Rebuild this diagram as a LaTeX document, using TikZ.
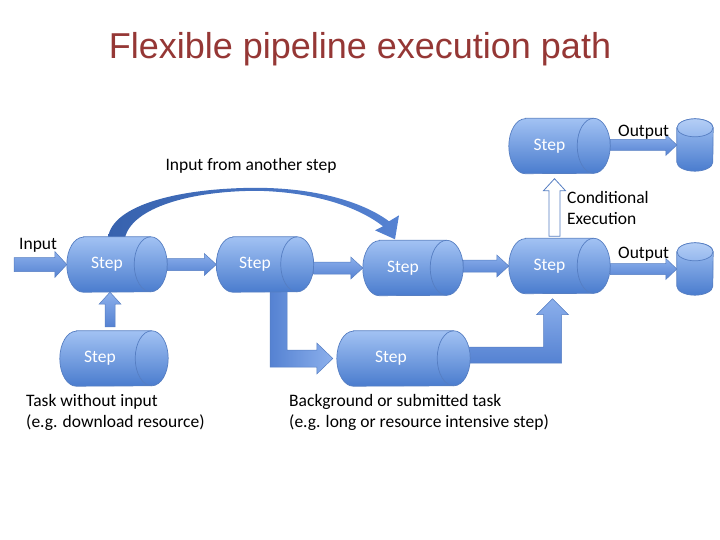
\documentclass[tikz,border=0pt]{standalone}
\usepackage{fontspec}
\setmainfont{Carlito}
\newfontfamily\titlefont{Liberation Sans}
\usetikzlibrary{calc}
\definecolor{cyltop}{RGB}{162,194,243}
\definecolor{cylbot}{RGB}{74,124,206}
\definecolor{cylline}{RGB}{86,126,194}
\definecolor{titlered}{RGB}{149,55,53}
\definecolor{arrdark}{RGB}{55,98,174}
\definecolor{arrmid}{RGB}{85,130,210}
\definecolor{arrlight}{RGB}{140,176,236}
\pgfdeclarelayer{bg}
\pgfsetlayers{bg,main}
\tikzset{
  stepbox/.style={rectangle, draw=none, text=white, inner sep=0pt,
    minimum width=100pt, minimum height=55pt, font=\fontsize{17.5}{21}\selectfont,
    execute at begin node={\hspace*{-20pt}}},
  textshift/.style={execute at begin node={\hspace*{#1}}},
  cylbody/.style={draw=cylline, line width=0.7pt, top color=cyltop, bottom color=cylbot},
  cylrim/.style={draw=cylline, line width=0.7pt},
  dbbox/.style={rectangle, draw=none, minimum width=36pt, minimum height=52pt, inner sep=0pt},
  dbbody/.style={draw=cylline, line width=0.7pt, top color=cyltop, bottom color=cylbot},
  dbtop/.style={draw=cylline, line width=0.7pt, top color=cyltop!80!white, bottom color=cyltop!85!cylbot},
  txt/.style={font=\fontsize{17.5}{21}\selectfont, inner sep=0pt, text=black},
  harr/.style={draw=cylline, line width=0.5pt, top color=arrlight, bottom color=arrmid},
  varr/.style={draw=cylline, line width=0.5pt, top color=arrlight, bottom color=arrmid},
  larr/.style={draw=cylline, line width=0.5pt, left color=arrmid, right color=arrlight},
  hollow/.style={draw=cylline, line width=0.8pt, fill=white},
  curvarr/.style={left color=arrdark, right color=arrmid, draw=none},
}
\newcommand\blockR[5]{%
  \path[harr] let \p1=(#1), \p2=(#2) in
    (\x1,\y2+#3) -- (\x2-#5,\y2+#3) -- (\x2-#5,\y2+#4) -- (\x2,\y2)
    -- (\x2-#5,\y2-#4) -- (\x2-#5,\y2-#3) -- (\x1,\y2-#3) -- cycle;}
\newcommand\cyldraw[1]{%
  \path[cylbody] ($(#1.north west)+(16.5,0)$) -- ($(#1.north east)+(-16.5,0)$)
    arc[start angle=-90, end angle=90, x radius=16.5, y radius=27.5]
    -- ($(#1.south west)+(16.5,0)$)
    arc[start angle=90, end angle=270, x radius=16.5, y radius=27.5] -- cycle;
  \path[cylrim] ($(#1.north east)+(-16.5,0)$)
    arc[start angle=-90, end angle=-270, x radius=16.5, y radius=27.5];}
\newcommand\dbdraw[1]{%
  \path[dbbody] ($(#1.north west)+(0,9)$) -- ($(#1.south west)+(0,-9)$)
    arc[start angle=180, end angle=0, x radius=18, y radius=9]
    -- ($(#1.north east)+(0,9)$)
    arc[start angle=0, end angle=-180, x radius=18, y radius=9] -- cycle;
  \path[dbtop] ($(#1.north)+(0,9)$) ellipse[x radius=18, y radius=9];}
\begin{document}
\begin{tikzpicture}[x=1pt,y=-1pt]
\useasboundingbox (0,0) rectangle (720,540);

% title
\node[font=\titlefont\fontsize{36}{40}\selectfont, text=titlered, anchor=base, inner sep=0pt]
  (title) at (360,58.5) {Flexible pipeline execution path};

% step cylinders (text nodes; bodies drawn below on the background layer)
\node[stepbox] (s1) at (117,264.5) {Step};
\node[stepbox, minimum width=97pt] (s2) at (265,264.5) {Step};
\node[stepbox] (s3) at (413,268) {Step};
\node[stepbox, minimum width=101pt] (s4) at (559.5,266) {Step};
\node[stepbox, minimum width=101pt] (stop) at (559.5,146) {Step};
\node[stepbox, minimum width=108pt, textshift=-8pt] (sbl) at (114,358.5) {Step};
\node[stepbox, minimum width=133pt, textshift=-5pt] (sbm) at (403.5,358.5) {Step};

% output databases
\node[dbbox] (db1) at (695,145) {};
\node[dbbox] (db2) at (695,269) {};
\dbdraw{db1}
\dbdraw{db2}

% labels
\node[txt, anchor=base west] (linput) at (19,249) {Input};
\node[txt, anchor=base] (lfrom) at (251,170.5) {Input from another step};
\node[txt, anchor=base west, align=left] (lcond) at (567,224.5) {Conditional\\Execution};
\node[txt, anchor=base west] (lout1) at (618,136.5) {Output};
\node[txt, anchor=base west] (lout2) at (618,258.5) {Output};
\node[txt, anchor=base west, align=left] (ltask) at (26,427.5) {Task without input\\(e.g. download resource)};
\node[txt, anchor=base west, align=left] (lbg) at (289,427.5) {Background or submitted task\\(e.g. long or resource intensive step)};

\coordinate (inp) at (14,264.5);

\begin{pgfonlayer}{bg}
% straight block arrows
\blockR{inp}{s1.west}{7pt}{13pt}{12pt}
\blockR{s1.east}{s2.west}{6pt}{11pt}{12pt}
\blockR{s2.east}{s3.west}{6pt}{11pt}{12pt}
\blockR{s3.east}{s4.west}{6pt}{11pt}{12pt}
\blockR{s4.east}{db2.west}{5.5pt}{10.5pt}{11pt}
\blockR{stop.east}{db1.west}{5.5pt}{10.5pt}{11pt}

% up arrow: task without input -> step
\path[varr] let \p1=($(sbl.north)+(-4,-4)$), \p2=(s1.south) in
  (\x1-5pt,\y1) -- (\x1-5pt,\y2-12pt) -- (\x1-11pt,\y2-12pt) -- (\x1,\y2)
  -- (\x1+11pt,\y2-12pt) -- (\x1+5pt,\y2-12pt) -- (\x1+5pt,\y1) -- cycle;

% elbow: step -> background step
\path[larr] let \p1=($(s2.south)+(13.5,-2)$), \p2=($(sbm.west)+(-4,0)$) in
  (\x1-8.5pt,\y1) -- (\x1-8.5pt,\y2-8.5pt) -- (\x2-16pt,\y2-8.5pt) -- (\x2-16pt,\y2-15.5pt)
  -- (\x2,\y2) -- (\x2-16pt,\y2+15.5pt) -- (\x2-16pt,\y2+8.5pt) -- (\x1+8.5pt,\y2+8.5pt)
  -- (\x1+8.5pt,\y1) -- cycle;

% elbow: background step -> step
\path[varr] let \p1=($(sbm.east)+(-6,-3.5)$), \p2=($(s4.south)+(-7,5)$) in
  (\x1,\y1-8pt) -- (\x2+9pt,\y1-8pt) -- (\x2+9pt,\y2-16pt) -- (\x2+16pt,\y2-16pt)
  -- (\x2,\y2) -- (\x2-16pt,\y2-16pt) -- (\x2-9pt,\y2-16pt) -- (\x2-9pt,\y1+8pt)
  -- (\x1,\y1+8pt) -- cycle;

% curved arrow: input from another step
\path[curvarr]
  ($(s1.north)+(-9,1)$) .. controls ($(s1.north)+(-5,-32)$) and ($(s1.north)+(63,-49)$) .. ($(s1.north)+(141,-49)$)
  .. controls ($(s3.north)+(-93,-52)$) and ($(s3.north)+(-48,-37)$) .. ($(s3.north)+(-24,-19)$)
  -- ($(s3.north)+(-14,-25)$) -- ($(s3.north)+(-18,-1)$) -- ($(s3.north)+(-38,-10)$)
  -- ($(s3.north)+(-30,-14)$)
  .. controls ($(s3.north)+(-53,-32)$) and ($(s3.north)+(-95,-48)$) .. ($(s1.north)+(141,-46)$)
  .. controls ($(s1.north)+(73,-46)$) and ($(s1.north)+(15,-29)$) .. ($(s1.north)+(8,1)$) -- cycle;

% cylinder bodies
\cyldraw{s1}\cyldraw{s2}\cyldraw{s3}\cyldraw{s4}\cyldraw{stop}\cyldraw{sbl}\cyldraw{sbm}
\end{pgfonlayer}

% hollow arrow: conditional execution
\path[hollow] let \p1=($(s4.north)+(-5,-2)$), \p2=($(stop.south)+(-5,5)$) in
  (\x1-5.5pt,\y1) -- (\x1-5.5pt,\y2-12pt) -- (\x1-11pt,\y2-12pt) -- (\x1,\y2)
  -- (\x1+11pt,\y2-12pt) -- (\x1+5.5pt,\y2-12pt) -- (\x1+5.5pt,\y1) -- cycle;
\end{tikzpicture}
\end{document}
